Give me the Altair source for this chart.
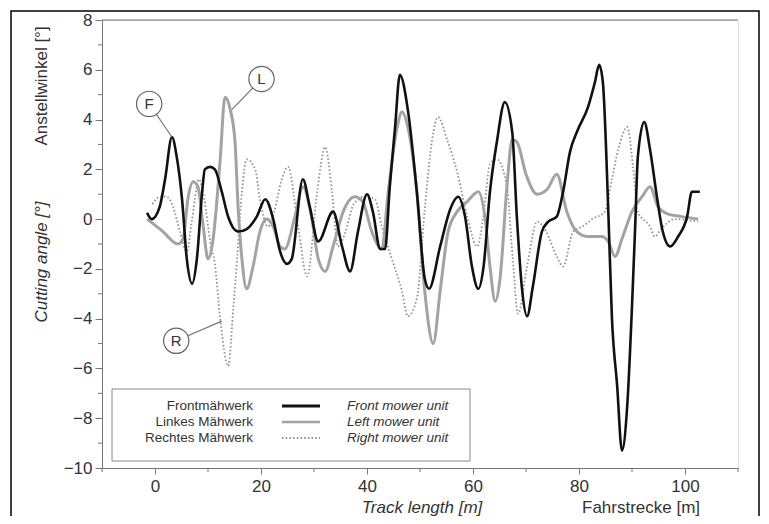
import altair as alt
import pandas as pd

# ---------------- data ----------------
front_x = [-1.5, -0.6, 0.9, 1.9, 3.2, 4.1, 5.1, 6.0, 7.0, 7.9, 8.9, 9.4, 10.4, 11.3, 12.6, 13.8,
           15.7, 17.3, 19.2, 20.8, 22.3, 23.6, 24.9, 25.8, 27.9, 29.2, 30.8, 33.6, 35.3, 36.8,
           38.3, 40.0, 41.1, 42.5, 43.4, 44.3, 45.3, 46.2, 47.7, 49.4, 50.9, 51.7, 53.8, 55.7,
           57.2, 58.5, 59.8, 61.0, 62.0, 63.2, 64.5, 66.0, 67.4, 68.3, 69.2, 70.2, 71.3, 73.0,
           74.2, 75.8, 77.0, 78.3, 79.8, 81.7, 83.0, 83.8, 84.5, 85.5, 86.2, 87.2, 88.1, 89.1,
           90.0, 90.6, 91.1, 92.3, 93.4, 94.7, 95.8, 97.2, 98.7, 100.4, 101.3, 102.8]
front_y = [0.25, 0.0, 0.5, 1.6, 3.3, 2.5, 0.8, -1.6, -2.6, -1.6, 1.1, 2.0, 2.1, 2.0, 1.1, 0.1,
           -0.5, -0.4, 0.1, 0.8, 0.0, -1.3, -1.8, -1.6, 1.6, 0.5, -0.9, 0.3, -1.1, -2.1,
           -0.5, 1.0, 0.3, -1.2, -1.2, 1.3, 3.7, 5.8, 4.4, 1.1, -2.4, -2.8, -1.1, 0.4,
           0.9, 0.1, -1.9, -2.8, -1.9, 1.1, 3.1, 4.7, 3.5, 0.0, -2.7, -3.9, -2.7, -0.5,
           -0.1, 0.1, 1.1, 2.7, 3.6, 4.5, 5.5, 6.2, 5.5, 0.5, -3.9, -6.7, -9.3, -7.5,
           -3.5, -0.3, 2.5, 3.9, 2.8, 0.9, -0.5, -1.1, -0.7, 0.1, 1.1, 1.1]

left_x = [-1.5, 1.5, 4.3, 5.3, 6.2, 7.2, 8.1, 9.1, 10.0, 10.9, 12.3, 13.2, 14.2, 15.1, 15.7,
          16.4, 17.3, 18.5, 19.8, 21.1, 22.3, 23.6, 24.5, 26.4, 27.9, 29.6, 30.8, 32.1, 33.6,
          35.5, 37.7, 39.2, 40.9, 42.8, 44.0, 45.7, 46.6, 47.7, 49.4, 50.9, 52.5, 53.8, 55.3,
          57.0, 58.9, 61.0, 62.3, 63.2, 64.2, 65.1, 66.4, 67.4, 68.3, 70.0, 72.1, 74.0, 75.8,
          77.7, 79.6, 81.7, 84.3, 85.5, 86.8, 88.1, 90.0, 91.9, 93.4, 94.9, 96.8, 99.4, 102.5]
left_y = [0.0, -0.5, -1.0, -0.8, 0.8, 1.5, 1.3, -0.3, -1.6, -0.9, 2.4, 4.9, 4.4, 3.1, 0.4,
          -1.6, -2.8, -1.9, -0.5, 0.0, -0.3, -1.1, -1.2, 0.1, 1.3, 0.0, -1.6, -2.1, -1.1,
          0.3, 0.9, 0.7, -0.5, -1.2, 1.1, 3.7, 4.3, 3.7, 1.1, -2.9, -5.0, -2.9, -0.5,
          0.3, 0.7, 1.1, 0.0, -1.9, -3.3, -2.4, 1.3, 3.2, 3.1, 1.8, 1.0, 1.2, 1.8,
          0.3, -0.5, -0.7, -0.7, -0.9, -1.5, -0.8, 0.3, 0.9, 1.3, 0.5, 0.2, 0.1, 0.0]

right_x = [-0.5, 1.0, 2.2, 3.4, 4.7, 6.0, 7.0, 8.3, 9.3, 10.5, 11.3, 12.3, 13.8, 14.8, 15.5,
           16.4, 17.3, 18.9, 19.8, 21.3, 22.5, 23.8, 25.1, 27.0, 28.7, 30.6, 32.1, 33.4, 34.5,
           35.8, 37.5, 39.5, 41.5, 42.8, 44.7, 46.6, 47.7, 49.4, 50.9, 52.3, 53.4, 55.1, 57.0,
           58.9, 60.8, 62.0, 63.2, 64.5, 66.4, 67.5, 68.5, 70.2, 72.1, 73.8, 75.8, 77.0, 78.9,
           80.6, 82.5, 84.9, 86.2, 87.4, 89.1, 90.2, 91.1, 93.4, 94.3, 95.5, 98.1, 102.5]
right_y = [0.6, 0.9, 0.9, 0.5, -0.5, -1.3, 0.0, 1.6, 0.8, -1.0, -1.8, -4.0, -5.9, -3.5, -1.6,
           1.1, 2.4, 2.0, 0.8, -0.3, 0.3, 1.5, 2.1, -0.3, -2.3, 1.1, 2.9, 1.1, -1.1,
           -0.6, 0.6, 0.9, 0.8, -0.3, -1.6, -2.9, -3.9, -3.2, 0.4, 3.2, 4.1, 3.2, 1.9,
           0.1, -1.1, 0.2, 2.2, 2.4, 1.3, -1.6, -3.8, -1.9, -0.1, -0.5, -1.5, -1.9, -0.5,
           -0.3, 0.0, 0.3, 1.6, 2.8, 3.7, 2.1, 0.3, -0.3, -0.7, -0.4, 0.0, -0.1]

series_de = ["Frontmähwerk", "Linkes Mähwerk", "Rechtes Mähwerk"]
series_en = ["Front mower unit", "Left mower unit", "Right mower unit"]

ann_labels = ["F", "L", "R"]
ann_cx = [-1.1, 20.1, 4.0]
ann_cy = [4.63, 5.63, -4.89]
ann_tx = [3.2, 14.5, 12.6]
ann_ty = [3.3, 4.4, -4.1]

x_domain = [-10, 110]
y_domain = [-10, 8]
x_major = [0, 20, 40, 60, 80, 100]
x_minor = [-10, 10, 30, 50, 70, 90, 110]
y_major = [-10, -8, -6, -4, -2, 0, 2, 4, 6, 8]
y_minor = [-9, -7, -5, -3, -1, 1, 3, 5, 7]

# ---------------- styling ----------------
FONT = "Liberation Sans"
AX = "#777777"
W, H = 636, 448

xs = alt.Scale(domain=x_domain, nice=False, zero=False)
ys = alt.Scale(domain=y_domain, nice=False, zero=False)
xaxis = alt.Axis(values=x_major, tickSize=6, tickColor=AX, domainColor=AX, labelColor="#333",
                 labelFont=FONT, labelFontSize=17, labelPadding=4, grid=False, title=None,
                 labelFlush=False)
yaxis = alt.Axis(values=y_major, tickSize=7, tickColor=AX, domainColor=AX, labelColor="#333",
                 labelFont=FONT, labelFontSize=17, labelPadding=3, grid=False, title=None,
                 labelFlush=False)

one = pd.DataFrame({"a": [0]})


def curve(xv, yv, color, width, dash=None):
    df = pd.DataFrame({"x": xv, "y": yv})
    kw = dict(color=color, strokeWidth=width, interpolate="monotone", clip=True)
    if dash:
        kw["strokeDash"] = dash
    return alt.Chart(df).mark_line(**kw).encode(
        x=alt.X("x:Q", scale=xs, axis=xaxis), y=alt.Y("y:Q", scale=ys, axis=yaxis))


frame = alt.Chart(one).mark_rect(fill="white", fillOpacity=0, stroke="black", strokeWidth=1.5).encode(
    x=alt.value(-91), x2=alt.value(657), y=alt.value(-9), y2=alt.value(505))

top_line = alt.Chart(one).mark_rule(color=AX, strokeWidth=1).encode(
    x=alt.value(0), x2=alt.value(W), y=alt.value(0))

xminor = alt.Chart(pd.DataFrame({"v": x_minor})).mark_rule(color=AX, strokeWidth=1).encode(
    x=alt.X("v:Q", scale=xs, axis=xaxis), y=alt.value(H), y2=alt.value(H + 4))
yminor = alt.Chart(pd.DataFrame({"v": y_minor})).mark_rule(color=AX, strokeWidth=1).encode(
    y=alt.Y("v:Q", scale=ys, axis=yaxis), x=alt.value(-4), x2=alt.value(0))

right_c = curve(right_x, right_y, "#8f8f8f", 1.8, [1.5, 2.2])
left_c = curve(left_x, left_y, "#a3a3a3", 3)
front_c = curve(front_x, front_y, "#111111", 2.6)

ann = pd.DataFrame({"label": ann_labels, "cx": ann_cx, "cy": ann_cy, "tx": ann_tx, "ty": ann_ty})
ann_line = alt.Chart(ann).mark_rule(color="#777", strokeWidth=1.2).encode(
    x=alt.X("cx:Q", scale=xs, axis=xaxis), y=alt.Y("cy:Q", scale=ys, axis=yaxis),
    x2="tx:Q", y2="ty:Q")
ann_circ = alt.Chart(ann).mark_point(shape="circle", size=640, filled=False, fill="white",
                                     fillOpacity=1, stroke="#666", strokeWidth=1.2, opacity=1).encode(
    x=alt.X("cx:Q", scale=xs, axis=xaxis), y=alt.Y("cy:Q", scale=ys, axis=yaxis))
ann_text = alt.Chart(ann).mark_text(font=FONT, fontSize=15, color="#333", baseline="middle",
                                    align="center", dy=0.5).encode(
    x=alt.X("cx:Q", scale=xs, axis=xaxis), y=alt.Y("cy:Q", scale=ys, axis=yaxis), text="label:N")

# axis titles
titles = [
    alt.Chart(one).mark_text(text="Track length [m]", font=FONT, fontSize=17, fontStyle="italic",
                             color="#333", align="center", baseline="alphabetic").encode(
        x=alt.value(320), y=alt.value(493)),
    alt.Chart(one).mark_text(text="Fahrstrecke [m]", font=FONT, fontSize=17,
                             color="#333", align="left", baseline="alphabetic").encode(
        x=alt.value(480), y=alt.value(493)),
    alt.Chart(one).mark_text(text="Anstellwinkel [°]", font=FONT, fontSize=17, angle=270,
                             color="#333", align="center", baseline="middle").encode(
        x=alt.value(-60), y=alt.value(66)),
    alt.Chart(one).mark_text(text="Cutting angle [°]", font=FONT, fontSize=17, angle=270,
                             fontStyle="italic", color="#333", align="center", baseline="middle").encode(
        x=alt.value(-60), y=alt.value(242)),
]

# legend
legend_layers = [
    alt.Chart(one).mark_rect(fill="white", stroke="#888", strokeWidth=1).encode(
        x=alt.value(10), x2=alt.value(368), y=alt.value(369), y2=alt.value(441))
]
row_y = [386, 402, 418]
styles = [dict(color="#111111", strokeWidth=3),
          dict(color="#a3a3a3", strokeWidth=2.5),
          dict(color="#8f8f8f", strokeWidth=1.8, strokeDash=[1.5, 2.2])]
for de, en, yy, st in zip(series_de, series_en, row_y, styles):
    legend_layers.append(alt.Chart(one).mark_text(text=de, font=FONT, fontSize=13.5, color="#333",
                                                  align="right", baseline="middle").encode(
        x=alt.value(151), y=alt.value(yy)))
    legend_layers.append(alt.Chart(one).mark_rule(**st).encode(
        x=alt.value(180), x2=alt.value(218), y=alt.value(yy)))
    legend_layers.append(alt.Chart(one).mark_text(text=en, font=FONT, fontSize=13.5, color="#333",
                                                  fontStyle="italic", align="left", baseline="middle").encode(
        x=alt.value(245), y=alt.value(yy)))

chart = alt.layer(
    frame, top_line, xminor, yminor, right_c, left_c, front_c,
    ann_line, ann_circ, ann_text, *titles, *legend_layers
).properties(
    width=W, height=H,
    autosize=alt.AutoSizeParams(type="none"),
    padding={"left": 94, "top": 12, "right": 23, "bottom": 48},
).configure_view(stroke=None).configure(background="white")

chart.save("out.html", embed_options={"renderer": "svg", "actions": False})
